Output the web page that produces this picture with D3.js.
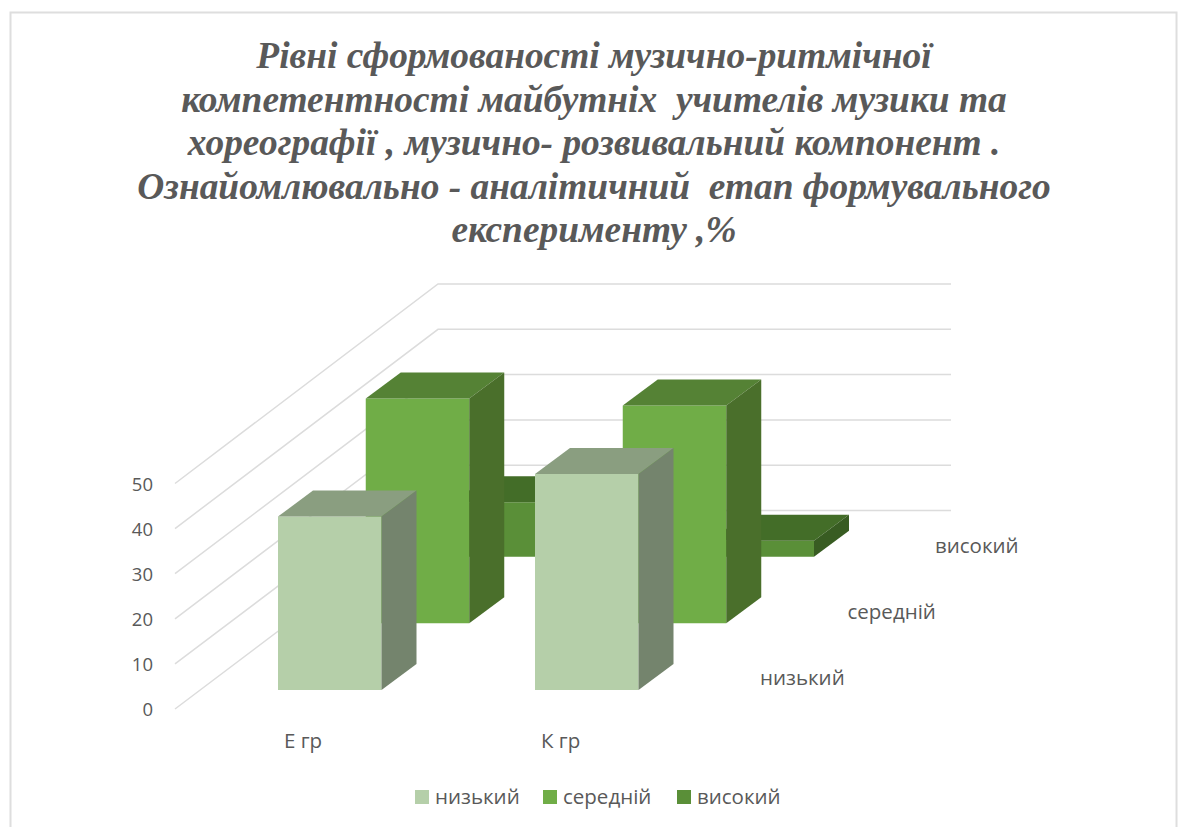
<!DOCTYPE html>
<html><head><meta charset="utf-8">
<script src="https://cdn.jsdelivr.net/npm/d3@7/dist/d3.min.js"></script>
<style>html,body{margin:0;padding:0;background:#fff}svg{display:block}</style>
</head><body><svg id="c" width="1181" height="827"></svg>
<script>
const titleLines = ["Рівні сформованості музично-ритмічної","компетентності майбутніх  учителів музики та","хореографії , музично- розвивальний компонент .","Ознайомлювально - аналітичний  етап формувального","експерименту ,%"];
const categories = ["Е гр","К гр"];
const seriesNames = ["низький","середній","високий"];
const lowValues = [38.2,47.6];
const midValues = [49.5,48];
const highValues = [12,3.5];
const yTicks = [0,10,20,30,40,50];

const colors = {
  "низький":{front:"#b5cfa9",top:"#8a9e80",side:"#74846d"},
  "середній":{front:"#70ad47",top:"#558235",side:"#4a6f2b"},
  "високий":{front:"#5a8f38",top:"#436d28",side:"#385c22"}
};
const seriesValues = [lowValues,midValues,highValues];
const svg = d3.select("#c");
const sans = "'Open Sans','Noto Sans',sans-serif";
const ink = "#595959";

// frame
svg.append("rect").attr("x",10.5).attr("y",12.5).attr("width",1166).attr("height",840)
  .attr("fill","#fff").attr("stroke","#dedede").attr("stroke-width",2);

// title
svg.append("g").selectAll("text").data(titleLines).join("text")
  .attr("x",594).attr("y",(d,i)=>68+i*43.5).attr("text-anchor","middle")
  .attr("font-family","'Liberation Serif',serif").attr("font-weight","bold").attr("font-style","italic")
  .attr("font-size",37.4).attr("fill",ink).style("white-space","pre").text(d=>d);

// 3D projection scales
const xCat = d3.scalePoint().domain(categories).range([278,535]);
const depthX = d3.scalePoint().domain(seriesNames).range([0,175.5]);
const depthY = d3.scalePoint().domain(seriesNames).range([690,556.7]);
const barH = d3.scaleLinear().domain([0,50]).range([0,227]);
const barW = 103.5, boxDX = 35, boxDY = 26;

// walls
const wallY = d3.scaleLinear().domain([0,50]).range([510.5,284]);
const frontY = d3.scaleLinear().domain([0,50]).range([709,483.5]);
const wallLeft = 438, wallRight = 951, frontLeft = 175;
const grid = svg.append("g").attr("stroke","#dcdcdc").attr("stroke-width",1.5).attr("fill","none");
grid.selectAll("path").data(yTicks).join("path")
  .attr("d",v=>d3.line()([[frontLeft,frontY(v)],[wallLeft,wallY(v)],[wallRight,wallY(v)]]));

// y labels
svg.append("g").selectAll("text").data(yTicks).join("text")
  .attr("x",153).attr("y",v=>frontY(v)+7).attr("text-anchor","end")
  .attr("font-family",sans).attr("font-size",18.5).attr("fill",ink).text(v=>v);

// bars: back row first
const bars = [];
seriesNames.forEach((s,si)=>categories.forEach((c,ci)=>bars.push({s,c,v:seriesValues[si][ci],si})));
bars.sort((a,b)=>b.si-a.si);
const barG = svg.append("g").selectAll("g").data(bars).join("g");
const poly = pts=>d3.line()(pts)+"Z";
barG.each(function(d){
  const g = d3.select(this);
  const x0 = xCat(d.c)+depthX(d.s), x1 = x0+barW, y0 = depthY(d.s), y1 = y0-barH(d.v);
  const col = colors[d.s];
  g.append("path").attr("fill",col.front).attr("d",poly([[x0,y0],[x1,y0],[x1,y1],[x0,y1]]));
  g.append("path").attr("fill",col.top).attr("d",poly([[x0,y1],[x1,y1],[x1+boxDX,y1-boxDY],[x0+boxDX,y1-boxDY]]));
  g.append("path").attr("fill",col.side).attr("d",poly([[x1,y0],[x1+boxDX,y0-boxDY],[x1+boxDX,y1-boxDY],[x1,y1]]));
});

// category labels
svg.append("g").selectAll("text").data(categories).join("text")
  .attr("x",c=>xCat(c)+6).attr("y",748).attr("font-family",sans).attr("font-size",20.5).attr("fill",ink).text(c=>c);

// depth-axis labels
const depthLabelX = d3.scalePoint().domain(seriesNames).range([760,935]);
const depthLabelY = d3.scalePoint().domain(seriesNames).range([685,553]);
svg.append("g").selectAll("text").data(seriesNames).join("text")
  .attr("x",s=>depthLabelX(s)).attr("y",s=>depthLabelY(s)).attr("font-family",sans).attr("font-size",20.5).attr("fill",ink).text(s=>s);

// legend
const legendX = d3.scaleOrdinal().domain(seriesNames).range([415,543,677]);
const lg = svg.append("g").selectAll("g").data(seriesNames).join("g");
lg.append("rect").attr("x",s=>legendX(s)).attr("y",790).attr("width",14).attr("height",14).attr("fill",s=>colors[s].front);
lg.append("text").attr("x",s=>legendX(s)+20).attr("y",804).attr("font-family",sans).attr("font-size",20.5).attr("fill",ink).text(s=>s);
</script></body></html>
